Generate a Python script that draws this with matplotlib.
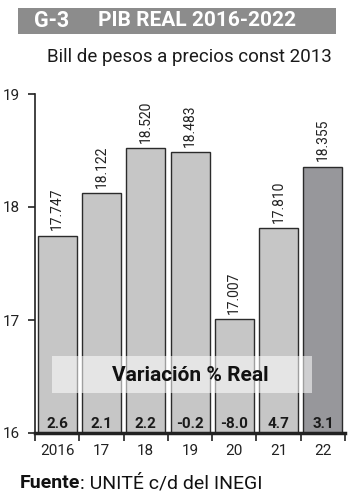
import matplotlib

matplotlib.use("Agg")
import matplotlib.pyplot as plt
from matplotlib.patches import Rectangle

years = ["2016", "17", "18", "19", "20", "21", "22"]
pib = [17.747, 18.122, 18.520, 18.483, 17.007, 17.810, 18.355]
variacion = ["2.6", "2.1", "2.2", "-0.2", "-8.0", "4.7", "3.1"]
y_ticks = [16, 17, 18, 19]

plt.rcParams["font.family"] = ["Roboto", "DejaVu Sans"]

fig = plt.figure(figsize=(3.52, 5.0), dpi=100)
ax = fig.add_axes([0.0994, 0.134, 0.881, 0.678])

colors = ["#c6c6c6"] * (len(pib) - 1) + ["#97979b"]
x = list(range(len(years)))
ax.bar(x, [v - 16 for v in pib], bottom=16, width=0.88, color=colors,
       edgecolor="#2b2b2b", linewidth=1.0, zorder=2)

for xi, v in zip(x, pib):
    ax.text(xi, v + 0.05, f"{v:.3f}", rotation=90, ha="center", va="bottom",
            fontsize=10, color="#222222", zorder=3)

for xi, s in zip(x, variacion):
    ax.text(xi, 16.02, s, ha="center", va="bottom", fontsize=11,
            fontweight="bold", color="#1a1a1a", zorder=4)

ax.add_patch(Rectangle((-0.12, 16.355), 5.87, 0.325, facecolor="white", alpha=0.55,
                       edgecolor="none", zorder=3))
ax.text(3.0, 16.51, "Variación % Real", ha="center", va="center", fontsize=15,
        fontweight="bold", color="#111111", zorder=4)

ax.set_xlim(-0.5, 6.5)
ax.set_ylim(16, 19)
ax.set_yticks(y_ticks)
ax.set_yticklabels([str(t) for t in y_ticks], fontsize=11, color="#222222")
ax.set_xticks([i - 0.5 for i in range(len(years) + 1)])
ax.set_xticklabels([])
ax.set_xticks(x, minor=True)
ax.set_xticklabels(years, minor=True, fontsize=11, color="#222222")
ax.tick_params(axis="x", which="minor", length=0, pad=8)
ax.tick_params(axis="x", which="major", length=6, width=1.2, color="#222222")
ax.tick_params(axis="y", length=5, width=1.2, color="#222222", pad=6)
for side in ["top", "right"]:
    ax.spines[side].set_visible(False)
ax.spines["left"].set_color("#222222")
ax.spines["left"].set_linewidth(1.2)
ax.spines["bottom"].set_color("#222222")
ax.spines["bottom"].set_linewidth(2.5)

# header
fig.patches.append(Rectangle((0.051, 0.932), 0.904, 0.052, transform=fig.transFigure,
                             facecolor="#8c8c8c", edgecolor="none"))
fig.text(0.098, 0.958, "G-3", ha="left", va="center", fontsize=15.5,
         fontweight="bold", color="white")
fig.text(0.278, 0.958, "PIB REAL 2016-2022", ha="left", va="center", fontsize=15,
         fontweight="bold", color="white")
fig.text(0.537, 0.886, "Bill de pesos a precios const 2013", ha="center", va="center",
         fontsize=13.5, color="#1a1a1a")

# source line: bold word followed directly by the rest
src = fig.text(0.057, 0.034, "Fuente", ha="left", va="center", fontsize=14,
               fontweight="bold", color="#111111")
fig.canvas.draw()
bb = src.get_window_extent().transformed(fig.transFigure.inverted())
fig.text(bb.x1, 0.034, ": UNITÉ c/d del INEGI", ha="left", va="center", fontsize=14,
         color="#111111")

fig.savefig("out.png", dpi=100)
